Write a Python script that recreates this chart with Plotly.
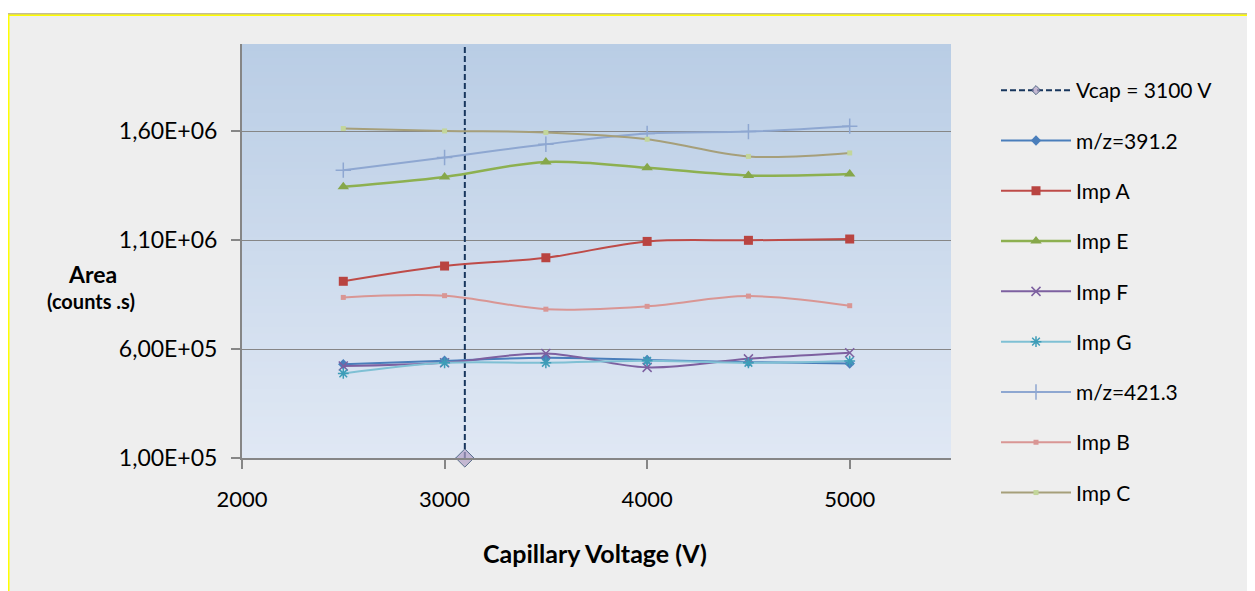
import plotly.graph_objects as go

voltage = [2500, 3000, 3500, 4000, 4500, 5000]
mz391 = [530000, 546000, 560000, 550000, 540000, 534000]
imp_a = [911000, 981000, 1019000, 1094000, 1099000, 1105000]
imp_e = [1345000, 1390000, 1459000, 1432000, 1397000, 1403000]
imp_f = [522000, 537000, 580000, 516000, 555000, 583000]
imp_g = [488000, 537000, 537000, 546000, 537000, 545000]
mz421 = [1421000, 1479000, 1540000, 1589000, 1598000, 1623000]
imp_b = [837000, 845000, 783000, 796000, 843000, 799000]
imp_c = [1612000, 1601000, 1594000, 1563000, 1484000, 1500000]
vcap_x = [3100, 3100]
vcap_y = [100000, 2000000]

y_tickvals = [100000, 600000, 1100000, 1600000]
y_ticktext = ["1,00E+05", "6,00E+05", "1,10E+06", "1,60E+06"]

# page body has an 8px margin; figure is sized to fit the window
OFF = 8
W, H = 1255 - OFF, 591 - OFF
# plot area in screen pixels
L, R, T, B = 242, 951, 44, 458
def px(p):
    return (p - L) / (R - L)
def py(p):
    return (B - p) / (B - T)

FONT = "Lato"

fig = go.Figure()

fig.add_trace(go.Scatter(
    x=vcap_x, y=vcap_y, name="Vcap = 3100 V", mode="lines+markers",
    line=dict(color="#17365D", width=2, dash="6px,3px"),
    marker=dict(symbol="diamond", size=[14, 0], color="#B3A2C7"),
    cliponaxis=False, legendgroup="g0"))

series = [
    ("m/z=391.2", mz391, "#4A7EBB", "#4A7EBB", "diamond", 8, 2),
    ("Imp A", imp_a, "#BE4B48", "#B94441", "square", 9, 2),
    ("Imp E", imp_e, "#8DB050", "#86A74A", "triangle-up", 10, 2.5),
    ("Imp F", imp_f, "#7D60A0", "#7D60A0", "x-thin", 9, 2),
    ("Imp G", imp_g, "#7FC0D4", "#3E9DB8", "asterisk", 9, 2),
    ("m/z=421.3", mz421, "#8EA7D1", "#8EA7D1", "cross-thin", 11, 2),
    ("Imp B", imp_b, "#D99694", "#D99694", "square", 5, 2),
    ("Imp C", imp_c, "#A69F7A", "#C3D69B", "square", 5, 2),
]
for i, (name, vals, lc, mc, sym, ms, lw) in enumerate(series):
    thin = sym in ("x-thin", "cross-thin", "asterisk")
    fig.add_trace(go.Scatter(
        x=voltage, y=vals, name=name, mode="lines+markers",
        line=dict(color=lc, width=lw, shape="spline", smoothing=1),
        marker=dict(symbol=sym, size=ms, color=mc,
                    line=dict(color=mc, width=1.5 if thin else 0)),
        legendgroup="g%d" % (i + 1)))

shapes = []
# outer frame
shapes.append(dict(type="rect", xref="paper", yref="paper",
                   x0=px(0), x1=px(1300), y0=py(13), y1=py(700),
                   fillcolor="#C4BC96", line=dict(width=0), layer="below"))
shapes.append(dict(type="rect", xref="paper", yref="paper",
                   x0=px(0), x1=px(1300), y0=py(14.5), y1=py(700),
                   fillcolor="#FFFF00", line=dict(width=0), layer="below"))
shapes.append(dict(type="rect", xref="paper", yref="paper",
                   x0=px(9.5), x1=px(1300), y0=py(16), y1=py(700),
                   fillcolor="#EEEEEE", line=dict(width=0), layer="below"))
# plot-area gradient
top = (0xB9, 0xCD, 0xE5)
bot = (0xE0, 0xE8, 0xF4)
N = 60
for k in range(N):
    t = (k + 0.5) / N
    c = tuple(round(top[j] + (bot[j] - top[j]) * t) for j in range(3))
    shapes.append(dict(type="rect", xref="x domain", yref="y domain",
                       x0=0, x1=1, y0=1 - (k + 1) / N - 0.002, y1=1 - k / N,
                       fillcolor="rgb(%d,%d,%d)" % c, line=dict(width=0),
                       layer="below"))

annotations = [
    dict(text="<b>Area</b>", x=px(92), y=py(274), xref="paper", yref="paper",
         xanchor="center", yanchor="middle",
         showarrow=False, font=dict(family=FONT, size=23, color="#000000")),
    dict(text="<b>(counts .s)</b>", x=px(91), y=py(301), xref="paper", yref="paper",
         xanchor="center", yanchor="middle",
         showarrow=False, font=dict(family=FONT, size=20, color="#000000")),
    dict(text="<b>Capillary Voltage (V)</b>", x=px(595), y=py(553),
         xref="paper", yref="paper", showarrow=False,
         xanchor="center", yanchor="middle",
         font=dict(family=FONT, size=25, color="#000000")),
]

fig.update_layout(
    width=W, height=H,
    margin=dict(l=L - OFF, r=W - (R - OFF), t=T - OFF, b=H - (B - OFF), pad=0),
    paper_bgcolor="#FFFFFF", plot_bgcolor="#C8D7EA",
    font=dict(family=FONT, color="#000000"),
    shapes=shapes, annotations=annotations,
    legend=dict(x=px(996), y=py(70), xanchor="left", yanchor="top",
                bgcolor="rgba(0,0,0,0)", font=dict(family=FONT, size=21),
                traceorder="grouped", tracegroupgap=20, itemwidth=70,
                maxheight=600),
    xaxis=dict(range=[2000, 5500], tickvals=[2000, 3000, 4000, 5000],
               showgrid=False, zeroline=False, showline=True,
               linecolor="#868686", linewidth=1.5, ticks="outside", ticklen=9,
               tickcolor="#868686", tickwidth=2,
               tickfont=dict(family=FONT, size=22, color="#000000"),
               ticklabelstandoff=12),
    yaxis=dict(range=[100000, 2000000], tickvals=y_tickvals, ticktext=y_ticktext,
               showgrid=True, gridcolor="#868686", gridwidth=1.2, zeroline=False,
               showline=True, linecolor="#868686", linewidth=2,
               ticks="outside", ticklen=9, tickcolor="#868686", tickwidth=1.5,
               tickfont=dict(family=FONT, size=23, color="#000000"),
               ticklabelstandoff=9),
)

fig.write_html("out.html")
